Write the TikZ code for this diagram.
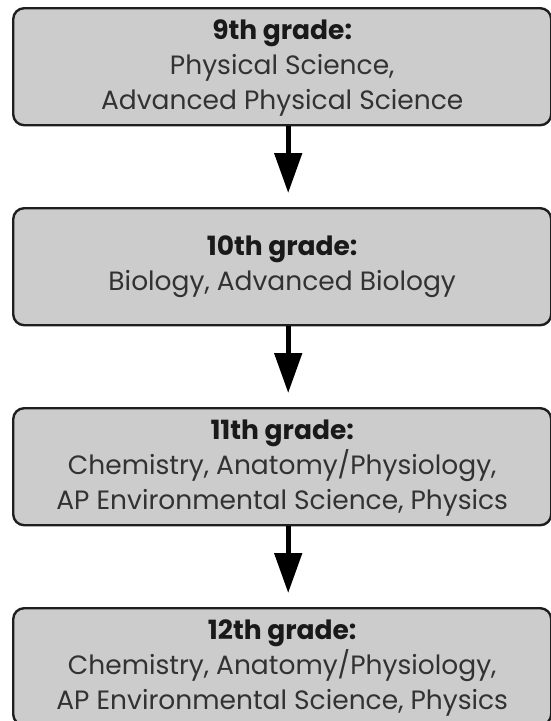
\documentclass[tikz,border=0pt]{standalone}
\usepackage{fontspec}
\setmainfont{Poppins}
\usetikzlibrary{arrows.meta}
\definecolor{boxfill}{RGB}{204,204,204}
\definecolor{boxline}{RGB}{30,30,30}
\definecolor{bodytext}{RGB}{50,50,50}
\tikzset{
  gradebox/.style={draw=boxline, line width=2.4pt, fill=boxfill, rounded corners=11pt,
    minimum width=538pt, minimum height=117pt, inner sep=0pt, anchor=north west},
  gradetext/.style={align=center, font=\fontsize{26.5}{35}\selectfont, text=bodytext, inner sep=0pt},
  flowarrow/.style={line width=5pt, -{Triangle[width=27pt,length=40pt]}, black},
}
\newcommand{\gradehead}[1]{{\bfseries\color{black!90}#1}}
\begin{document}
\begin{tikzpicture}[x=1pt,y=1pt]
\useasboundingbox (0,0) rectangle (551,-721);
\node[gradebox] (b1) at (12,-7) {};
\node[gradebox] (b2) at (12,-207) {};
\node[gradebox] (b3) at (12,-407) {};
\node[gradebox] (b4) at (12,-607) {};
\node[gradetext] (t1) at ([yshift=-1pt]b1.center) {\gradehead{9th grade:}\\Physical Science,\\Advanced Physical Science};
\node[gradetext] (t2) at (b2.center) {\gradehead{10th grade:}\\Biology, Advanced Biology};
\node[gradetext] (t3) at ([yshift=-1pt]b3.center) {\gradehead{11th grade:}\\Chemistry, Anatomy/Physiology,\\AP Environmental Science, Physics};
\node[gradetext] (t4) at ([yshift=-1pt]b4.center) {\gradehead{12th grade:}\\Chemistry, Anatomy/Physiology,\\AP Environmental Science, Physics};
\coordinate (a1) at ([xshift=6pt]b2.north);
\coordinate (a2) at ([xshift=6pt]b3.north);
\coordinate (a3) at ([xshift=6pt]b4.north);
\draw[flowarrow] ([xshift=6pt]b1.south) -- ([yshift=14pt]a1);
\draw[flowarrow] ([xshift=6pt]b2.south) -- ([yshift=14pt]a2);
\draw[flowarrow] ([xshift=6pt]b3.south) -- ([yshift=14pt]a3);
\end{tikzpicture}
\end{document}
